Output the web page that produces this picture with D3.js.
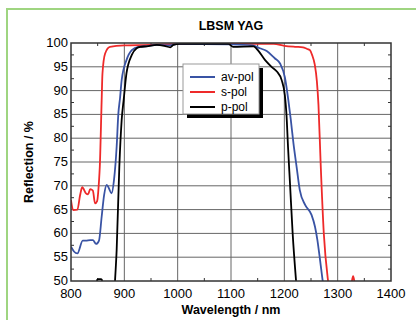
<!DOCTYPE html>
<html><head><meta charset="utf-8">
<script src="https://cdn.jsdelivr.net/npm/d3@7"></script>
<style>
html,body{margin:0;padding:0;background:#fff;}
svg{display:block;font-family:"Liberation Sans",Arial,sans-serif;}
</style></head>
<body>
<svg id="chart" width="416" height="320"></svg>
<script>
const title = "LBSM YAG";
const xTicks = [800, 900, 1000, 1100, 1200, 1300, 1400];
const yTicks = [50, 55, 60, 65, 70, 75, 80, 85, 90, 95, 100];
const seriesNames = ["av-pol", "s-pol", "p-pol"];
const seriesColors = ["#3953a4", "#ee2a2a", "#000000"];

const avPolNm = [800,805.6,812,822,828,836,841,847,852.5,857.5,862,867,871,876,880.6,885.6,888.7,892,895,904,914,926,940,960,985,1000,1100,1140,1154,1167,1182,1192,1201,1207.5,1212,1217,1223,1229,1239,1251,1257.5,1262,1267,1272,1280];
const avPol   = [57.2,56.2,55.8,58.5,58.5,58.6,58.6,57.8,58.5,63.5,68,70.2,69.5,68.4,71.2,78.2,85,88.5,92.2,96.4,98.5,99.2,99.3,99.6,99.5,99.8,99.7,99.5,98.9,98.3,96.8,95.7,92.8,88,84,79,74,69.1,66,63.9,61.4,58.6,54.4,50,45];

const sPolNm = [800,804,812,817,821,828,832,836,841,845,849,852.5,854,857.5,859,864,873,900,950,1000,1100,1180,1200,1220,1235,1242,1248,1252,1257,1261,1264,1268,1274,1282,1290,1320,1326,1329,1332,1340,1400];
const sPol   = [67,64.9,65,68,69.7,68.4,68.2,69.3,69,66.3,66.8,71,74,88,93.6,97.8,99.2,99.5,99.6,99.8,99.8,99.8,99.4,99.2,99.1,98.8,98.5,97.5,95.5,92,87,75,60,50,45,45,49.5,51,49.5,45,45];

const pPolNm = [800,846,849,851,856,858,861,875,882.5,885.6,890.6,895,899,904,914,923,930,942,961,975,986,992,1004,1050,1095,1104,1142,1148,1164,1176,1186,1195,1201,1204,1207,1210.6,1215.6,1222,1230,1400];
const pPol   = [40,45,50.2,50.4,50.4,50.2,45,40,50,56.5,74,83.8,88.3,93.6,97.5,98.9,99.2,99.3,99.6,99.4,99.1,99.6,99.8,99.8,99.8,99.2,99.3,98.8,96.4,95,94,92.2,89,85,78,70.5,60,50,40,40];

const svg = d3.select("#chart");
const L = 71, R = 391, T = 43, B = 281;
const x = d3.scaleLinear().domain([800, 1400]).range([L, R]);
const y = d3.scaleLinear().domain([50, 100]).range([B, T]);

// green outer border
svg.append("path").attr("d", `M7,320 L7,9 L416,9`).attr("fill","none")
  .attr("stroke","#9fd581").attr("stroke-width",2);

// title
svg.append("text").attr("x",(L+R)/2).attr("y",30).attr("text-anchor","middle")
  .attr("font-weight","bold").attr("font-size","12.5px").text(title);

// grid
const g = svg.append("g");
g.selectAll("line.gx").data(xTicks.slice(1,-1)).join("line")
  .attr("x1",d=>x(d)).attr("x2",d=>x(d)).attr("y1",T).attr("y2",B)
  .attr("stroke","#666").attr("stroke-width",1);
g.selectAll("line.gy").data(yTicks.slice(1,-1)).join("line")
  .attr("y1",d=>y(d)).attr("y2",d=>y(d)).attr("x1",L).attr("x2",R)
  .attr("stroke","#666").attr("stroke-width",1);

// minor ticks
const xMinor = d3.range(850, 1400, 100);
const yMinor = d3.range(52.5, 100, 5);
xMinor.forEach(v=>{
  g.append("line").attr("x1",x(v)).attr("x2",x(v)).attr("y1",B).attr("y2",B-3).attr("stroke","#333");
  g.append("line").attr("x1",x(v)).attr("x2",x(v)).attr("y1",T).attr("y2",T+3).attr("stroke","#333");
});
yMinor.forEach(v=>{
  g.append("line").attr("y1",y(v)).attr("y2",y(v)).attr("x1",L).attr("x2",L+3).attr("stroke","#333");
  g.append("line").attr("y1",y(v)).attr("y2",y(v)).attr("x1",R).attr("x2",R-3).attr("stroke","#333");
});

// curves
svg.append("clipPath").attr("id","clip").append("rect")
  .attr("x",L).attr("y",T-2).attr("width",R-L).attr("height",B-T+2);
const line = d3.line().x(d=>x(d[0])).y(d=>y(d[1])).curve(d3.curveMonotoneX);
const series = [
  {nm: avPolNm, v: avPol},
  {nm: sPolNm, v: sPol},
  {nm: pPolNm, v: pPol}
];
const cg = svg.append("g").attr("clip-path","url(#clip)");
[1,0,2].forEach(i=>{
  const s = series[i];
  cg.append("path").datum(s.nm.map((n,k)=>[n,s.v[k]]))
    .attr("d",line).attr("fill","none").attr("stroke",seriesColors[i])
    .attr("stroke-width",1.8).attr("stroke-linejoin","round");
});

// frame
svg.append("rect").attr("x",L).attr("y",T).attr("width",R-L).attr("height",B-T)
  .attr("fill","none").attr("stroke","#333").attr("stroke-width",1.5);

// tick labels
svg.selectAll("text.xl").data(xTicks).join("text")
  .attr("x",d=>x(d)).attr("y",298).attr("text-anchor","middle")
  .attr("font-size","13px").text(d=>d);
svg.selectAll("text.yl").data(yTicks).join("text")
  .attr("x",L-3).attr("y",d=>y(d)+4).attr("text-anchor","end")
  .attr("font-size","13px").text(d=>d);

// axis titles
svg.append("text").attr("x",(L+R)/2).attr("y",314).attr("text-anchor","middle")
  .attr("font-weight","bold").attr("font-size","12.5px").text("Wavelength / nm");
svg.append("text").attr("transform",`translate(33,${(T+B)/2}) rotate(-90)`)
  .attr("text-anchor","middle").attr("font-weight","bold").attr("font-size","12.5px")
  .text("Reflection / %");

// legend
const lg = svg.append("g");
const lx = 183, ly = 64, lw = 76, lh = 50;
lg.append("rect").attr("x",lx+4).attr("y",ly+4).attr("width",lw).attr("height",lh).attr("fill","#000");
lg.append("rect").attr("x",lx).attr("y",ly).attr("width",lw).attr("height",lh)
  .attr("fill","#fff").attr("stroke","#999").attr("stroke-width",1);
seriesNames.forEach((n,i)=>{
  const yy = ly + 13 + i*15;
  lg.append("line").attr("x1",lx+7).attr("x2",lx+32).attr("y1",yy).attr("y2",yy)
    .attr("stroke",seriesColors[i]).attr("stroke-width",2);
  lg.append("text").attr("x",lx+38).attr("y",yy+4).attr("font-size","12px").text(n);
});
</script>
</body></html>
